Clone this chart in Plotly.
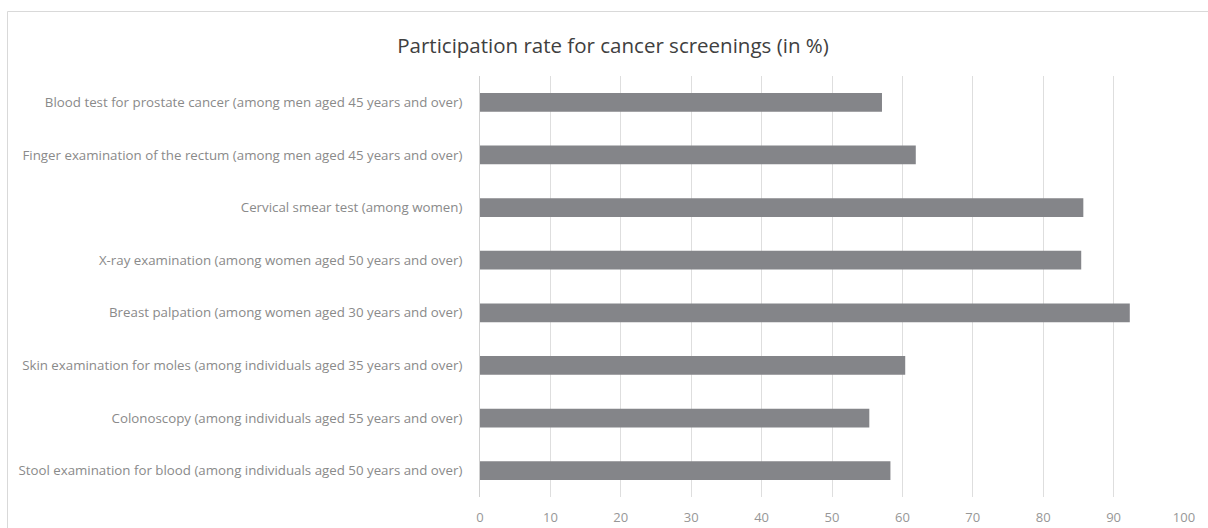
import plotly.graph_objects as go

categories = [
    "Stool examination for blood (among individuals aged 50 years and over)",
    "Colonoscopy (among individuals aged 55 years and over)",
    "Skin examination for moles (among individuals aged 35 years and over)",
    "Breast palpation (among women aged 30 years and over)",
    "X-ray examination (among women aged 50 years and over)",
    "Cervical smear test (among women)",
    "Finger examination of the rectum (among men aged 45 years and over)",
    "Blood test for prostate cancer (among men aged 45 years and over)",
]
values = [58.3, 55.3, 60.4, 92.3, 85.4, 85.7, 61.9, 57.1]
x_ticks = [0, 10, 20, 30, 40, 50, 60, 70, 80, 90, 100]

title = "Participation rate for cancer screenings (in %)"

fig = go.Figure(
    go.Bar(
        x=values,
        y=categories,
        orientation="h",
        marker=dict(color="#848589", line=dict(width=0)),
        width=0.355,
    )
)

W, H = 1208, 528
ml, mr, mt, mb = 480, 24, 76, 31
pw = W - ml - mr
ph = H - mt - mb

fig.update_layout(
    width=W,
    height=H,
    margin=dict(l=ml, r=mr, t=mt, b=mb, pad=0, autoexpand=False),
    paper_bgcolor="white",
    plot_bgcolor="white",
    showlegend=False,
    font=dict(family="Open Sans", size=13, color="#8a8a8a"),
    title=dict(
        text=title,
        x=613 / W,
        xref="container",
        xanchor="center",
        y=1 - 46 / H,
        yref="container",
        yanchor="middle",
        font=dict(family="Open Sans", size=20.5, color="#404040"),
    ),
    xaxis=dict(
        range=[0, 100],
        tickvals=x_ticks,
        showgrid=True,
        gridcolor="#dedede",
        gridwidth=1,
        zeroline=False,
        showline=False,
        ticks="",
        ticklabelstandoff=11,
        tickfont=dict(size=13, color="#979797"),
        automargin=False,
        fixedrange=True,
    ),
    yaxis=dict(
        range=[-0.5, len(categories) - 0.5],
        showgrid=False,
        showline=True,
        linecolor="#d0d0d0",
        linewidth=1,
        ticks="",
        ticklabelstandoff=14,
        tickfont=dict(size=13.3, color="#8a8a8a"),
        automargin=False,
        fixedrange=True,
    ),
    shapes=[
        dict(
            type="rect",
            xref="paper",
            yref="paper",
            x0=(7.5 - ml) / pw,
            x1=(W + 20 - ml) / pw,
            y0=-0.5,
            y1=1 + (mt - 11.5) / ph,
            line=dict(color="#d9d9d9", width=1),
            fillcolor="rgba(0,0,0,0)",
            layer="below",
        )
    ],
)

fig.write_html(
    "out.html",
    config={"displayModeBar": False},
    post_script="document.body.style.margin='0';document.body.style.overflow='hidden';",
)
